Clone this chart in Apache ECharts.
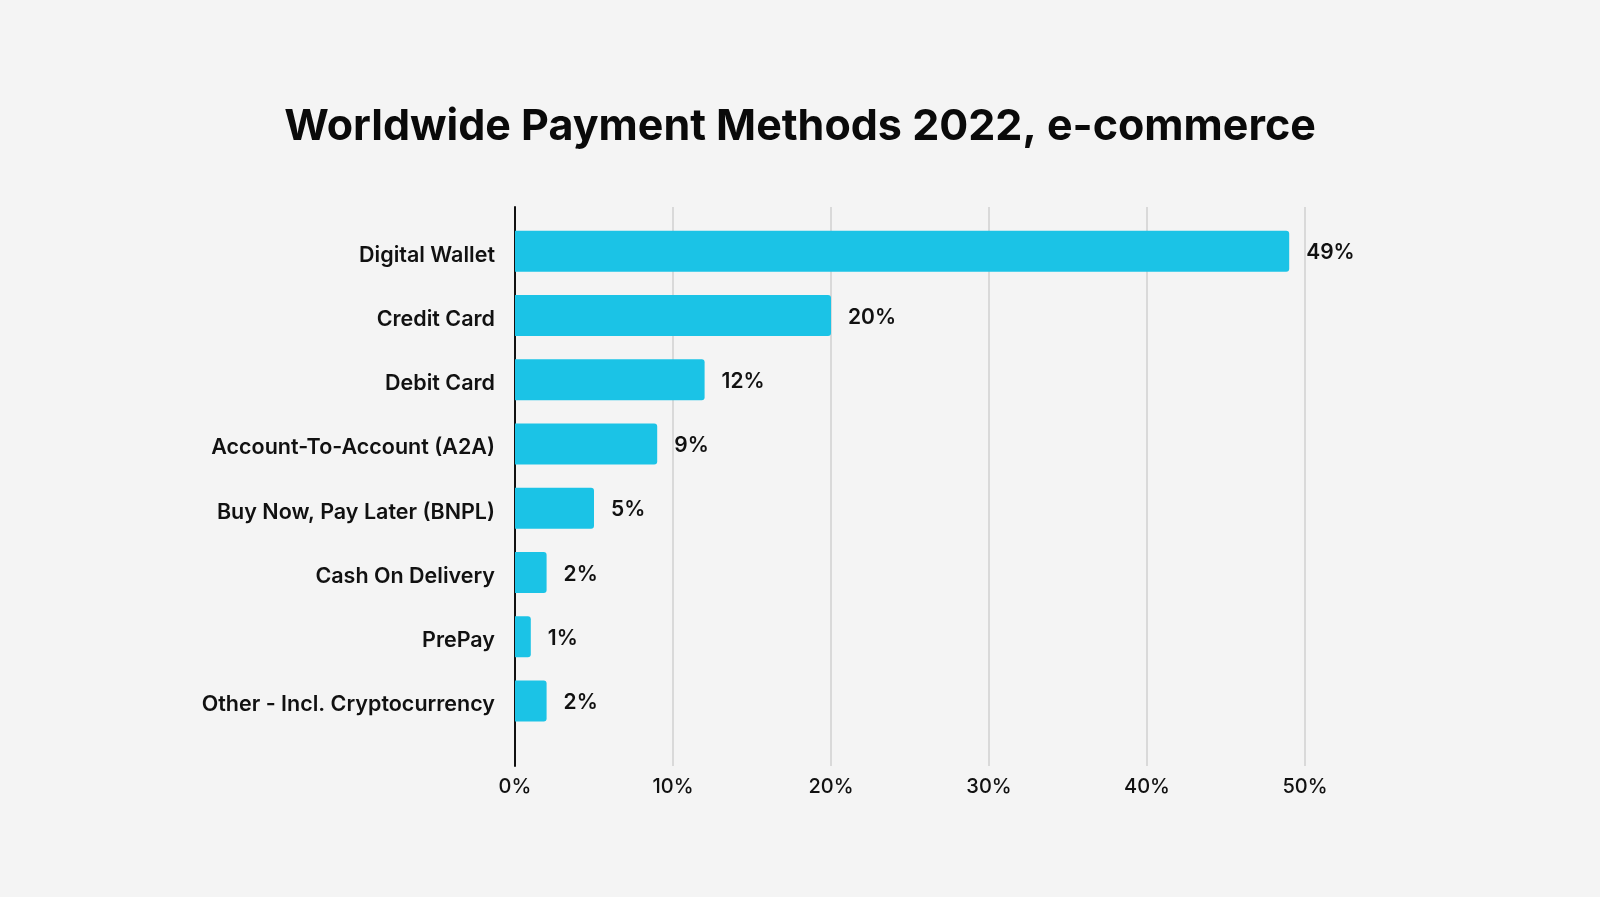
<!DOCTYPE html>
<html>
<head>
<meta charset="utf-8">
<title>Worldwide Payment Methods 2022, e-commerce</title>
<script src="https://cdn.jsdelivr.net/npm/echarts@6/dist/echarts.min.js"></script>
<style>
  html, body { margin: 0; padding: 0; background: #f4f4f4; }
  #chart { width: 1600px; height: 897px; }
</style>
</head>
<body>
<div id="chart"></div>
<script>
  // data
  const categories = [
    'Digital Wallet',
    'Credit Card',
    'Debit Card',
    'Account-To-Account (A2A)',
    'Buy Now, Pay Later (BNPL)',
    'Cash On Delivery',
    'PrePay',
    'Other - Incl. Cryptocurrency'
  ]
  const shares = [49, 20, 12, 9, 5, 2, 1, 2]
  const xTicks = [0, 10, 20, 30, 40, 50]

  const font = 'Inter, "Noto Sans", sans-serif'
  const gridLeft = 515
  const gridRight = 295

  const chart = echarts.init(document.getElementById('chart'))

  chart.setOption({
    backgroundColor: '#f4f4f4',
    animation: false,
    title: {
      text: 'Worldwide Payment Methods 2022, e-commerce',
      left: 'center',
      top: 101,
      textStyle: { fontFamily: font, fontSize: 43, fontWeight: 700, color: '#0a0a0a' }
    },
    grid: [
      // frame: axis line, split lines and tick labels
      { left: gridLeft, right: gridRight, top: 207, bottom: 897 - 766 },
      // bars
      { left: gridLeft, right: gridRight, top: 219, height: 514 }
    ],
    xAxis: [
      {
        gridIndex: 0,
        type: 'value',
        min: xTicks[0],
        max: xTicks[xTicks.length - 1],
        interval: 10,
        axisLine: { show: false },
        axisTick: { show: false },
        splitLine: { lineStyle: { color: '#d9d9d9', width: 2 } },
        axisLabel: {
          margin: 11,
          formatter: '{value}%',
          fontFamily: font,
          fontSize: 20,
          fontWeight: 500,
          color: '#111'
        }
      },
      {
        gridIndex: 1,
        type: 'value',
        min: xTicks[0],
        max: xTicks[xTicks.length - 1],
        show: false
      }
    ],
    yAxis: [
      {
        gridIndex: 0,
        type: 'category',
        data: [],
        axisLine: { lineStyle: { color: '#111', width: 2 } },
        axisTick: { show: false },
        axisLabel: { show: false }
      },
      {
        gridIndex: 1,
        type: 'category',
        inverse: true,
        data: categories,
        axisLine: { show: false },
        axisTick: { show: false },
        axisLabel: {
          margin: 20,
          verticalAlign: 'top',
          lineHeight: 8,
          fontFamily: font,
          fontSize: 21.5,
          fontWeight: 600,
          color: '#111'
        }
      }
    ],
    series: [
      {
        type: 'bar',
        xAxisIndex: 1,
        yAxisIndex: 1,
        data: shares,
        barWidth: 41,
        itemStyle: { color: '#1bc3e6', borderRadius: [0, 3, 3, 0] },
        label: {
          show: true,
          position: 'right',
          distance: 17,
          offset: [0, 2],
          formatter: '{c}%',
          fontFamily: font,
          fontSize: 21,
          fontWeight: 600,
          color: '#111'
        }
      }
    ]
  })
</script>
</body>
</html>
